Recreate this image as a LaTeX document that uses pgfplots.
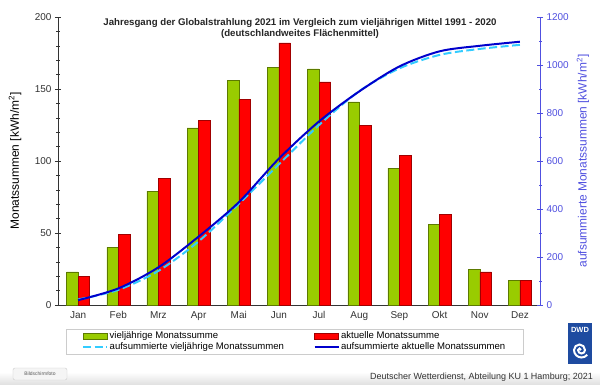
\documentclass[border=0pt]{standalone}
\usepackage{fontspec}
\setmainfont{Liberation Sans}
\usepackage{pgfplots}
\pgfplotsset{compat=1.18}
\definecolor{barG}{HTML}{99CC00}
\definecolor{barGd}{HTML}{5C7A00}
\definecolor{barR}{HTML}{FF0000}
\definecolor{barRd}{HTML}{A00000}
\definecolor{cumL}{HTML}{33CCFF}
\definecolor{cumB}{HTML}{0000CC}
\definecolor{axB}{HTML}{5050E0}
\definecolor{axG}{HTML}{333333}
\definecolor{dwd}{HTML}{1E4BA0}
\pgfplotsset{
  barlegend/.style={legend image code/.code={\draw[##1] (0bp,-3bp) rectangle (24bp,3bp);}},
  linelegend/.style={legend image code/.code={\draw[##1] (0bp,0bp) -- (24bp,0bp);}},
}
\begin{document}
\begin{tikzpicture}
\useasboundingbox (-58bp,-80bp) rectangle (542bp,305bp);
\fill[white] (-58bp,-80bp) rectangle (542bp,305bp);
\shade[top color=white, bottom color=gray!25] (-58bp,-80bp) rectangle (542bp,-67bp);
\begin{axis}[
  at={(0,0)}, anchor=south west, scale only axis,
  width=482bp, height=288bp,
  xmin=-0.5, xmax=11.5, ymin=0, ymax=200,
  axis x line*=bottom, axis y line*=left,
  xtick={0,...,11},
  xticklabels={Jan,Feb,Mrz,Apr,Mai,Jun,Jul,Aug,Sep,Okt,Nov,Dez},
  x tick style={draw=none},
  ytick={0,50,...,200}, minor y tick num=4,
  tick align=center, major tick length=6bp, minor tick length=3bp,
  axis line style={axG, line width=0.7pt},
  y tick style={axG, line width=0.6pt},
  /pgf/number format/assume math mode=true,
  ticklabel style={font=\fontsize{10}{12}\selectfont, text=axG},
  ylabel={Monatssummen [kWh/m\textsuperscript{2}]},
  ylabel style={at={(axis description cs:-0.089,0.5)}, anchor=center, font=\fontsize{12}{14}\selectfont},
  legend columns=2,
  legend cell align=left,
  legend style={at={(axis description cs:0.0166,-0.083)}, anchor=north west,
    draw=gray!40, font=\fontsize{9.6}{11}\selectfont,
    inner xsep=16bp, inner ysep=1.5bp, row sep=1bp,
    nodes={inner xsep=1.5bp, inner ysep=1bp},
    /tikz/every even column/.append style={column sep=28bp}},
]
\addplot[ybar, bar width=11.5bp, bar shift=-5.75bp, fill=barG, draw=barGd, line width=0.5pt, barlegend]
  coordinates {(0,23) (1,40) (2,79) (3,123) (4,156) (5,165) (6,164) (7,141) (8,95) (9,56) (10,25) (11,17)};
\addlegendentry{vieljährige Monatssumme}
\addplot[ybar, bar width=11.5bp, bar shift=5.75bp, fill=barR, draw=barRd, line width=0.5pt, barlegend]
  coordinates {(0,20) (1,49) (2,88) (3,128) (4,143) (5,182) (6,155) (7,125) (8,104) (9,63) (10,23) (11,17)};
\addlegendentry{aktuelle Monatssumme}
\addlegendimage{cumL, line width=2pt, dash pattern=on 8bp off 3.5bp, linelegend}
\addlegendentry{aufsummierte vieljährige Monatssummen}
\addlegendimage{cumB, line width=2pt, linelegend}
\addlegendentry{aufsummierte aktuelle Monatssummen}
\end{axis}
\begin{axis}[
  at={(0,0)}, anchor=south west, scale only axis,
  width=482bp, height=288bp,
  xmin=-0.5, xmax=11.5, ymin=0, ymax=1200,
  axis x line=none, axis y line*=right,
  ytick={0,200,...,1200}, minor y tick num=1,
  tick align=center, major tick length=6bp, minor tick length=3bp,
  y axis line style={axB, line width=0.7pt},
  y tick style={axB, line width=0.6pt},
  /pgf/number format/assume math mode=true,
  /pgf/number format/1000 sep={},
  yticklabel style={font=\fontsize{10}{12}\selectfont, text=axB},
  ylabel={aufsummierte Monatssummen [kWh/m\textsuperscript{2}]},
  ylabel style={at={(axis description cs:1.089,0.5)}, anchor=center, rotate=0, font=\fontsize{12}{14}\selectfont, text=axB},
]
\addplot[cumL, line width=2pt, dash pattern=on 8bp off 3.5bp, smooth]
  coordinates {(0,23) (1,63) (2,142) (3,265) (4,421) (5,586) (6,750) (7,891) (8,986) (9,1042) (10,1067) (11,1084)};
\addplot[cumB, line width=2pt, smooth]
  coordinates {(0,20) (1,69) (2,157) (3,285) (4,428) (5,610) (6,765) (7,890) (8,994) (9,1057) (10,1080) (11,1097)};
\end{axis}
\node[anchor=north, align=center, font=\fontsize{9.7}{11.5}\selectfont\bfseries, text=black!85] at (242bp,290bp)
  {Jahresgang der Globalstrahlung 2021 im Vergleich zum vieljährigen Mittel 1991 - 2020\\(deutschlandweites Flächenmittel)};
\node[anchor=east, font=\fontsize{9}{10}\selectfont, text=axG, inner sep=0pt] at (535bp,-72bp)
  {Deutscher Wetterdienst, Abteilung KU 1 Hamburg; 2021};
% DWD logo
\fill[dwd] (510bp,-18bp) rectangle (534bp,-59bp);
\node[text=white, font=\fontsize{7.5}{8}\selectfont\bfseries, inner sep=0pt] at (522bp,-25bp) {DWD};
\draw[white, line width=2pt] (523bp,-45bp) arc[start angle=0, end angle=180, radius=1.5bp]
  arc[start angle=180, end angle=360, radius=3.5bp]
  arc[start angle=0, end angle=180, radius=5.5bp]
  arc[start angle=180, end angle=320, radius=7.5bp];
% screenshot tooltip
\draw[gray!40, fill=gray!8, rounded corners=2bp] (-45bp,-63bp) rectangle (9bp,-75bp);
\node[font=\fontsize{5}{6}\selectfont, text=gray!70!black, inner sep=0pt] at (-18bp,-69bp) {Bildschirmfoto};
\end{tikzpicture}
\end{document}
